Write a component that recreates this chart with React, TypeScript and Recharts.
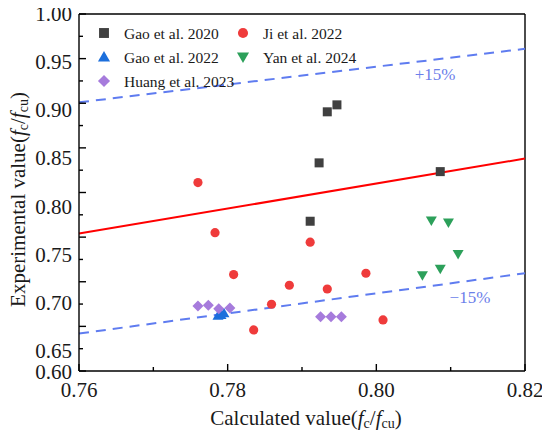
import React from "react";
import {
  ReferenceDot,
  ReferenceLine,
  Scatter,
  ScatterChart,
  XAxis,
  YAxis,
} from "recharts";

type Pt = { x: number; y: number };

const xTicks = [0.76, 0.77, 0.78, 0.79, 0.8, 0.81, 0.82];
const yTicks = [
  0.6, 0.625, 0.65, 0.675, 0.7, 0.725, 0.75, 0.775, 0.8, 0.825, 0.85, 0.875,
  0.9, 0.925, 0.95, 0.975, 1.0,
];

const gao2020: Pt[] = [
  { x: 0.7934, y: 0.8904 },
  { x: 0.7947, y: 0.8982 },
  { x: 0.7923, y: 0.8332 },
  { x: 0.8086, y: 0.8234 },
  { x: 0.7911, y: 0.7678 },
];
const ji2022: Pt[] = [
  { x: 0.776, y: 0.8111 },
  { x: 0.7783, y: 0.755 },
  { x: 0.7808, y: 0.708 },
  { x: 0.7883, y: 0.6961 },
  { x: 0.7859, y: 0.6748 },
  { x: 0.7835, y: 0.646 },
  { x: 0.7911, y: 0.7443 },
  { x: 0.7986, y: 0.7095 },
  { x: 0.7934, y: 0.6919 },
  { x: 0.8009, y: 0.6572 },
];
const gao2022: Pt[] = [
  { x: 0.7787, y: 0.662 },
  { x: 0.7791, y: 0.6628 },
  { x: 0.7795, y: 0.6647 },
];
const yan2024: Pt[] = [
  { x: 0.8074, y: 0.7685 },
  { x: 0.8097, y: 0.7663 },
  { x: 0.811, y: 0.7312 },
  { x: 0.8086, y: 0.7147 },
  { x: 0.8062, y: 0.7073 },
];
const huang2023: Pt[] = [
  { x: 0.776, y: 0.6729 },
  { x: 0.7774, y: 0.6737 },
  { x: 0.7788, y: 0.6698 },
  { x: 0.7803, y: 0.6706 },
  { x: 0.7925, y: 0.6609 },
  { x: 0.7939, y: 0.6609 },
  { x: 0.7953, y: 0.6609 },
];

// fit line and the ±15% bounds, end points read at the x-axis limits
const fitLine: Pt[] = [
  { x: 0.76, y: 0.754 },
  { x: 0.82, y: 0.838 },
];
const upperLine: Pt[] = [
  { x: 0.76, y: 0.901 },
  { x: 0.82, y: 0.961 },
];
const lowerLine: Pt[] = [
  { x: 0.76, y: 0.642 },
  { x: 0.82, y: 0.7095 },
];

const FONT = "'Liberation Serif', 'Times New Roman', serif";
const BOUND = "#5f7cf0";
const TEXT = "#1a1a1a";

type Marker = "square" | "circle" | "up" | "down" | "diamond";

function Symbol({ cx, cy, kind, color, s = 1 }: { cx: number; cy: number; kind: Marker; color: string; s?: number }) {
  if (cx == null || cy == null) return null;
  switch (kind) {
    case "square":
      return <rect x={cx - 4.5 * s} y={cy - 4.5 * s} width={9 * s} height={9 * s} fill={color} />;
    case "circle":
      return <circle cx={cx} cy={cy} r={4.6 * s} fill={color} />;
    case "up":
      return (
        <polygon
          points={`${cx},${cy - 5.5 * s} ${cx - 5.5 * s},${cy + 4 * s} ${cx + 5.5 * s},${cy + 4 * s}`}
          fill={color}
        />
      );
    case "down":
      return (
        <polygon
          points={`${cx},${cy + 5.5 * s} ${cx - 5.5 * s},${cy - 4 * s} ${cx + 5.5 * s},${cy - 4 * s}`}
          fill={color}
        />
      );
    default:
      return (
        <polygon
          points={`${cx},${cy - 5.5 * s} ${cx + 5.5 * s},${cy} ${cx},${cy + 5.5 * s} ${cx - 5.5 * s},${cy}`}
          fill={color}
        />
      );
  }
}

const series: { name: string; data: Pt[]; kind: Marker; color: string }[] = [
  { name: "Gao et al. 2020", data: gao2020, kind: "square", color: "#404040" },
  { name: "Ji et al. 2022", data: ji2022, kind: "circle", color: "#ef3b3b" },
  { name: "Gao et al. 2022", data: gao2022, kind: "up", color: "#1c6fdc" },
  { name: "Yan et al. 2024", data: yan2024, kind: "down", color: "#2ca05a" },
  { name: "Huang et al. 2023", data: huang2023, kind: "diamond", color: "#a67bdc" },
];

const isMajor = (v: number, step: number) => Math.abs(Math.round(v / step) * step - v) < 1e-6;

function XTick(props: any) {
  const { x, y, payload } = props;
  const major = isMajor(payload.value, 0.02);
  return (
    <g>
      <line x1={x} x2={x} y1={y} y2={y - (major ? 7 : 4)} stroke="#000" strokeWidth={1.4} />
      {major && (
        <text x={x} y={y + 19} textAnchor="middle" dominantBaseline="central" fontFamily={FONT} fontSize={21} fill={TEXT}>
          {payload.value.toFixed(2)}
        </text>
      )}
    </g>
  );
}

function YTick(props: any) {
  const { x, y, payload } = props;
  const v: number = payload.value;
  const major = isMajor(v, 0.05);
  // the printed labels drift a little below their ticks towards the bottom
  const dy = v < 0.61 ? 1 : (1 - v) * 70;
  return (
    <g>
      <line x1={x} x2={x + (major ? 7 : 4)} y1={y} y2={y} stroke="#000" strokeWidth={1.4} />
      {major && (
        <text x={x - 7} y={y + dy} textAnchor="end" dominantBaseline="central" fontFamily={FONT} fontSize={21} fill={TEXT}>
          {v.toFixed(2)}
        </text>
      )}
    </g>
  );
}

function XLabel({ viewBox }: any) {
  const cx = viewBox.x + viewBox.width / 2 + 4;
  return (
    <text x={cx} y={viewBox.y + 47} textAnchor="middle" dominantBaseline="central" fontFamily={FONT} fontSize={21} fill={TEXT}>
      Calculated value(<tspan fontStyle="italic">f</tspan>
      <tspan fontSize={14} dy={5}>c</tspan>
      <tspan dy={-5}>/</tspan>
      <tspan fontStyle="italic">f</tspan>
      <tspan fontSize={14} dy={5}>cu</tspan>
      <tspan dy={-5}>)</tspan>
    </text>
  );
}

function YLabel({ viewBox }: any) {
  const cx = 10;
  const cy = viewBox.y + viewBox.height / 2 + 7;
  return (
    <text
      x={cx}
      y={cy}
      transform={`rotate(-90, ${cx}, ${cy})`}
      textAnchor="middle"
      dominantBaseline="central"
      fontFamily={FONT}
      fontSize={21}
      fill={TEXT}
    >
      Experimental value(<tspan fontStyle="italic">f</tspan>
      <tspan fontSize={14} dy={5}>c</tspan>
      <tspan dy={-5}>/</tspan>
      <tspan fontStyle="italic">f</tspan>
      <tspan fontSize={14} dy={5}>cu</tspan>
      <tspan dy={-5}>)</tspan>
    </text>
  );
}

function LegendBox() {
  const cols = [96, 235];
  const rows = [25, 49, 73];
  return (
    <svg width={400} height={100} style={{ position: "absolute", left: 0, top: 0, pointerEvents: "none" }}>
      {series.map((s, i) => {
        const cx = cols[i % 2];
        const cy = rows[Math.floor(i / 2)];
        return (
          <g key={s.name}>
            <Symbol cx={cx} cy={cy} kind={s.kind} color={s.color} s={1.1} />
            <text x={cx + 20} y={cy} dominantBaseline="central" fontFamily={FONT} fontSize={15.5} fill={TEXT}>
              {s.name}
            </text>
          </g>
        );
      })}
    </svg>
  );
}

export default function App() {
  return (
    <div style={{ position: "relative", width: 542, height: 430 }}>
      <style>{".recharts-surface { overflow: visible; }"}</style>
      <ScatterChart width={542} height={430} margin={{ top: 6, right: 25, bottom: 12, left: 0 }}>
        <XAxis
          type="number"
          dataKey="x"
          domain={[0.76, 0.82]}
          ticks={xTicks}
          interval={0}
          allowDataOverflow
          height={55}
          tickSize={0}
          tickMargin={0}
          tickLine={false}
          tick={<XTick />}
          axisLine={{ stroke: "#000", strokeWidth: 1.4 }}
          label={<XLabel />}
        />
        <YAxis
          type="number"
          dataKey="y"
          domain={[0.6, 1.0]}
          ticks={yTicks}
          interval={0}
          allowDataOverflow
          width={71}
          tickSize={0}
          tickMargin={0}
          tickLine={false}
          tick={<YTick />}
          axisLine={{ stroke: "#000", strokeWidth: 1.4 }}
          label={<YLabel />}
        />
        <ReferenceLine y={1.0} stroke="#000" strokeWidth={1.4} />
        <ReferenceLine x={0.82} stroke="#000" strokeWidth={1.4} />
        <ReferenceLine
          segment={[upperLine[0], upperLine[1]]}
          stroke={BOUND}
          strokeWidth={2}
          strokeDasharray="10 7"
        />
        <ReferenceLine
          segment={[lowerLine[0], lowerLine[1]]}
          stroke={BOUND}
          strokeWidth={2}
          strokeDasharray="10 7"
        />
        <ReferenceLine segment={[fitLine[0], fitLine[1]]} stroke="#ff0000" strokeWidth={2} />
        <ReferenceDot
          x={0.8079}
          y={0.933}
          r={0}
          fill="none"
          stroke="none"
          label={{ value: "+15%", position: "center", fill: "#6b80ea", fontSize: 17, fontFamily: FONT }}
        />
        <ReferenceDot
          x={0.8126}
          y={0.683}
          r={0}
          fill="none"
          stroke="none"
          label={{ value: "\u221215%", position: "center", fill: "#6b80ea", fontSize: 17, fontFamily: FONT }}
        />
        {series.map((s) => (
          <Scatter
            key={s.name}
            name={s.name}
            data={s.data}
            isAnimationActive={false}
            shape={(p: any) => <Symbol cx={p.cx} cy={p.cy} kind={s.kind} color={s.color} />}
          />
        ))}
      </ScatterChart>
      <LegendBox />
    </div>
  );
}
